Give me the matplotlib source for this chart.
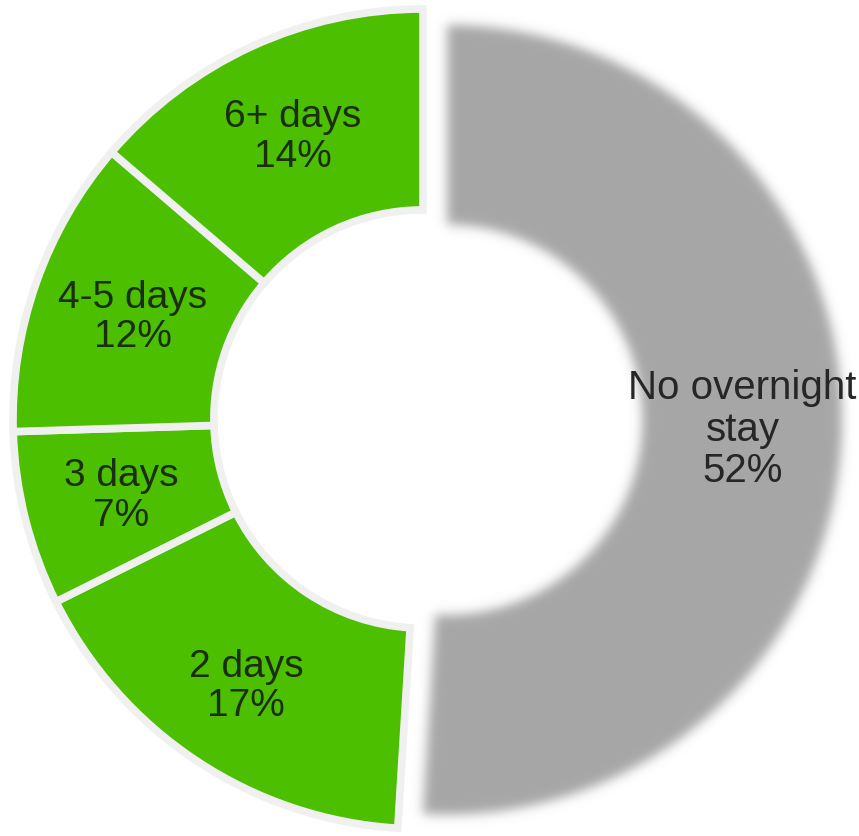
import numpy as np
import matplotlib
matplotlib.use("Agg")
import matplotlib.pyplot as plt

categories = ["No overnight\nstay", "2 days", "3 days", "4-5 days", "6+ days"]
values = [52, 17, 7, 12, 14]
colors = ["#a6a6a6", "#4cbf00", "#4cbf00", "#4cbf00", "#4cbf00"]
label_radius = [0.748, 0.78, 0.76, 0.75, 0.76]

plt.rcParams['font.family'] = ['Liberation Sans', 'DejaVu Sans']

W, H, DPI = 859, 837, 100
fig = plt.figure(figsize=(W / DPI, H / DPI), dpi=DPI)
ax = fig.add_axes([0, 0, 1, 1])
ax.axis('off')

scale = 410.0
cx, cy = 423.0, 420.0


def make_blur(sigma_px, rgb):
    def filt(im, dpi):
        pad = int(4 * sigma_px)
        h, w, _ = im.shape
        a = np.zeros((h + 2 * pad, w + 2 * pad))
        a[pad:pad + h, pad:pad + w] = im[:, :, 3]
        x = np.arange(-pad, pad + 1)
        k = np.exp(-0.5 * (x / sigma_px) ** 2)
        k /= k.sum()
        a = np.apply_along_axis(lambda r: np.convolve(r, k, mode='same'), 0, a)
        a = np.apply_along_axis(lambda r: np.convolve(r, k, mode='same'), 1, a)
        out = np.zeros((h + 2 * pad, w + 2 * pad, 4))
        out[:, :, 0] = rgb[0]
        out[:, :, 1] = rgb[1]
        out[:, :, 2] = rgb[2]
        out[:, :, 3] = np.clip(a, 0, 1)
        return out, -pad, -pad
    return filt


# gray slice (exploded, blurred)
wedges_gray, _ = ax.pie(values, colors=colors, startangle=90, counterclock=False,
                        radius=0.963, explode=[0.059, 0, 0, 0, 0],
                        wedgeprops=dict(width=0.487, linewidth=0))
for w in wedges_gray[1:]:
    w.remove()
g = wedges_gray[0]
g.set_agg_filter(make_blur(5.5, matplotlib.colors.to_rgb(colors[0])))

# green slices
wedges, _ = ax.pie(values, colors=colors, startangle=90, counterclock=False,
                   radius=1.0,
                   wedgeprops=dict(width=0.49, linewidth=5.5, edgecolor='#f0f0f0'))
wedges[0].remove()

ax.set_xlim(-cx / scale, (W - cx) / scale)
ax.set_ylim(-(H - cy) / scale, cy / scale)
ax.set_aspect('auto')

allw = [g] + list(wedges[1:])
for i, (w, lab, v) in enumerate(zip(allw, categories, values)):
    ang = np.deg2rad((w.theta1 + w.theta2) / 2)
    r = label_radius[i] * w.r
    x = w.center[0] + r * np.cos(ang)
    y = w.center[1] + r * np.sin(ang)
    col = '#262626' if i == 0 else '#1c2e10'
    fs = 29 if i == 0 else 28
    ax.text(x, y, f"{lab}\n{v}%", ha='center', va='center', fontsize=fs,
            color=col, linespacing=1.12)

fig.savefig("out.png", dpi=DPI)
